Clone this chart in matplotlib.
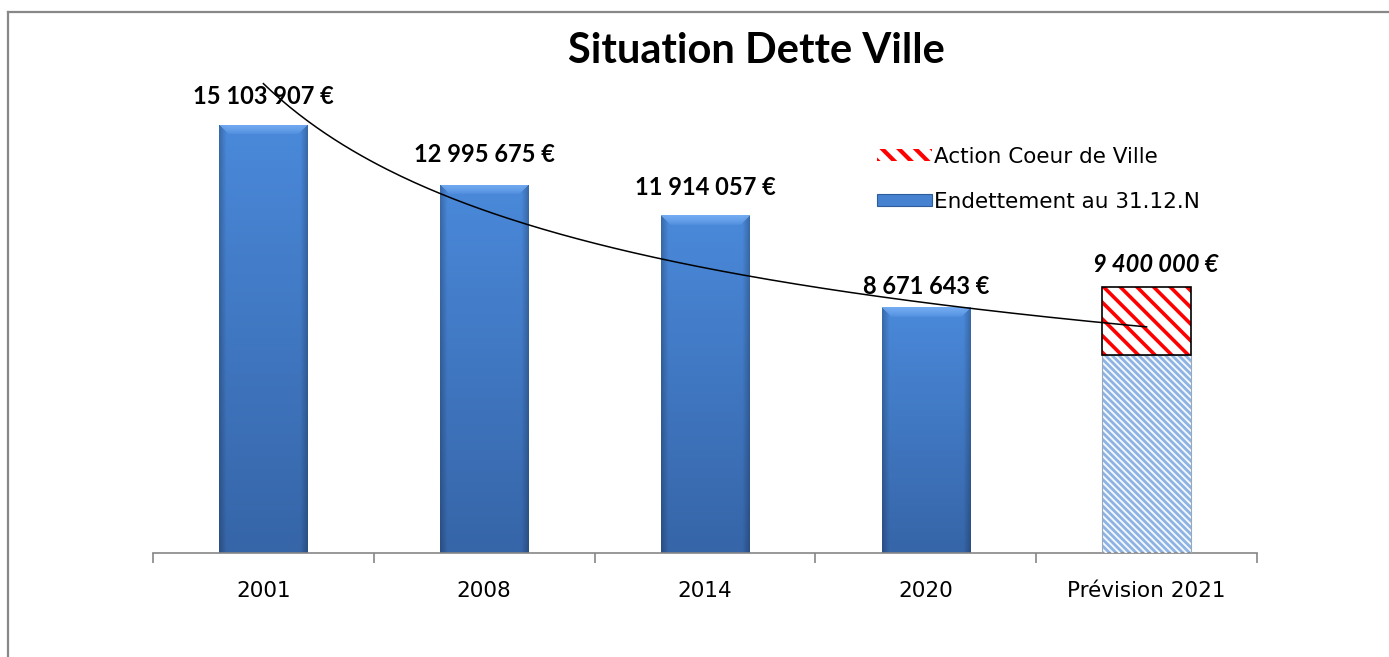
import matplotlib
matplotlib.use("Agg")
import matplotlib.pyplot as plt
import numpy as np
from matplotlib.patches import Patch
from matplotlib.lines import Line2D

# Data
categories = ["2001", "2008", "2014", "2020", "Prévision 2021"]
endettement = [15103907, 12995675, 11914057, 8671643, 7000000]
action_coeur = [0, 0, 0, 0, 2400000]
label_values = [15103907, 12995675, 11914057, 8671643, 9400000]

# layout helpers (pixels)
W, H = 1389, 657
label_dy_px = [28, 30, 28, 21, 22]
label_dx_px = [0, 0, 0, 0, 9]

fig = plt.figure(figsize=(W / 100, H / 100), dpi=100)
ax_l, ax_r, ax_b, ax_t = 153, 1257, 553, 80
ax = fig.add_axes([ax_l / W, 1 - ax_b / H, (ax_r - ax_l) / W, (ax_b - ax_t) / H])
ymax = 16.69e6
ax.set_xlim(-0.5, 4.5)
ax.set_ylim(0, ymax)

x = np.arange(len(categories))
bw = 0.40
px_x = (ax_r - ax_l) / 5.0
px_y = (ax_b - ax_t) / ymax


def shade_bar(bar):
    # vertical gradient + darker sides + light bevel on top, like the excel 3D look
    x0, y0 = bar.get_x(), bar.get_y()
    w, h = bar.get_width(), bar.get_height()
    nh = max(int(round(h * px_y)), 2)
    nw = max(int(round(w * px_x)), 2)
    rows = np.linspace(0, 1, nh)[:, None, None]
    top = np.array([74, 137, 218]) / 255
    bot = np.array([54, 101, 168]) / 255
    img = top + (bot - top) * rows
    img = np.repeat(img, nw, axis=1)
    cols = np.arange(nw)
    edge = np.minimum(cols, nw - 1 - cols)
    side = 1 - 0.22 * np.clip(1 - edge / 7.0, 0, 1)
    img = img * side[None, :, None]
    light = np.array([120, 176, 245]) / 255
    bev = 10
    for i in range(min(bev, nh)):
        a = 0.9 * (1 - i / bev) ** 0.7
        sl = slice(i, nw - i)
        img[i, sl] = img[i, sl] * (1 - a) + light * a
    img = np.clip(img, 0, 1)
    im = ax.imshow(img, extent=[x0, x0 + w, y0, y0 + h], origin="upper",
                   aspect="auto", zorder=2.5, interpolation="bilinear")
    im.set_clip_path(bar)


# regular bars (first four)
bars = ax.bar(x[:4], endettement[:4], width=bw, color="#4682D0", edgecolor="none", zorder=2)
for b in bars:
    shade_bar(b)

# forecast: hatched light-blue base + red hatched top
ax.bar(x[4], endettement[4], width=bw, color="#8DB3E2", edgecolor="none", zorder=2)
with plt.rc_context({"hatch.linewidth": 1.4}):
    ax.bar(x[4], endettement[4], width=bw, color="none", edgecolor="#F4F8FE",
           hatch="\\\\\\\\\\", linewidth=0, zorder=2.6)
ax.bar(x[4], endettement[4], width=bw, color="none", edgecolor="#9aa8bb", linewidth=0.8, zorder=2.7)
ax.bar(x[4], action_coeur[4], bottom=endettement[4], width=bw, color="white",
       edgecolor="none", zorder=2)
with plt.rc_context({"hatch.linewidth": 2.6}):
    ax.bar(x[4], action_coeur[4], bottom=endettement[4], width=bw, color="none",
           edgecolor="#FF0000", hatch="\\\\", linewidth=0, zorder=2.6)
ax.bar(x[4], action_coeur[4], bottom=endettement[4], width=bw, color="none",
       edgecolor="black", linewidth=1.2, zorder=2.7)

# power trendline on the "Endettement" series (as excel does)
xi = x + 1
coef = np.polyfit(np.log(xi), np.log(endettement), 1)
xs = np.linspace(1, 5, 200)
ax.plot(xs - 1, np.exp(coef[1]) * xs ** coef[0], color="black", lw=1.1, zorder=4)

# data labels
for i, v in enumerate(label_values):
    txt = f"{v:,}".replace(",", " ") + " €"
    top = endettement[i] + action_coeur[i]
    ax.annotate(txt, (x[i], top), xytext=(label_dx_px[i] * 0.72, label_dy_px[i] * 0.72),
                textcoords="offset points", ha="center", va="center",
                fontfamily="Lato", fontweight="bold", fontsize=17,
                fontstyle="italic" if i == 4 else "normal", zorder=5)

# axes styling
for s in ["top", "right", "left"]:
    ax.spines[s].set_visible(False)
ax.spines["bottom"].set_color("#868686")
ax.spines["bottom"].set_linewidth(1.2)
ax.set_yticks([])
ax.set_xticks(x)
ax.set_xticklabels(categories, fontfamily="DejaVu Sans", fontsize=15.5)
ax.tick_params(axis="x", which="major", length=0, pad=20)
ax.set_xticks(np.arange(-0.5, 5, 1), minor=True)
ax.tick_params(axis="x", which="minor", length=7, color="#868686", width=1.2)

# legend
with plt.rc_context({"hatch.linewidth": 3.0}):
    h_red = Patch(facecolor="white", edgecolor="#FF0000", hatch="\\\\", linewidth=0)
    handles = [h_red, Patch(facecolor="#4682D0", edgecolor="#2F5C9A", linewidth=0.8)]
    ax.legend(handles, ["Action Coeur de Ville", "Endettement au 31.12.N"],
              loc="upper left", bbox_to_anchor=(866 / W, 1 - 136 / H),
              bbox_transform=fig.transFigure, frameon=False, borderpad=0,
              handlelength=2.55, handleheight=0.5, handletextpad=0.1, labelspacing=1.15,
              prop={"family": "DejaVu Sans", "size": 15.5})

# title
fig.text(756 / W, 1 - 51 / H, "Situation Dette Ville", ha="center", va="center",
         fontfamily="Lato", fontweight="bold", fontsize=30)

# chart frame (top and left edges visible in the reference)
fig.add_artist(Line2D([8 / W, 1], [1 - 12 / H, 1 - 12 / H], transform=fig.transFigure,
                      color="#888888", lw=1.6))
fig.add_artist(Line2D([8 / W, 8 / W], [1 - 12 / H, 0], transform=fig.transFigure,
                      color="#888888", lw=1.6))

fig.savefig("out.png", dpi=100)
